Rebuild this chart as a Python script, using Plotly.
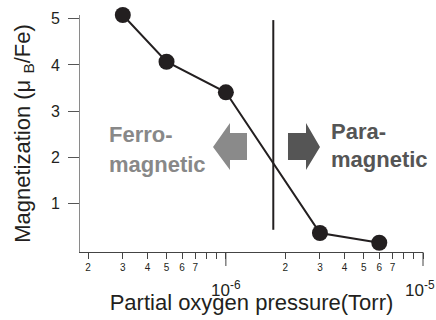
import math
import plotly.graph_objects as go

# Magnetization vs. partial oxygen pressure during growth
pressure_torr = [3e-7, 5e-7, 1e-6, 3e-6, 6e-6]
magnetization = [5.08, 4.07, 3.41, 0.37, 0.16]

# Boundary between ferro- and paramagnetic regimes
boundary_x = [1.74e-6, 1.74e-6]
boundary_y = [4.97, 0.44]

# Log-axis ticks: labelled digits within each decade
decades = [-7, -6]
digit_labels = {2: "2", 3: "3", 4: "4", 5: "5", 6: "6", 7: "7", 8: "", 9: ""}
decade_ticks = [1e-6, 1e-5]
decade_labels = ["10<sup>-6</sup>", "10<sup>-5</sup>"]
y_ticks = [1, 2, 3, 4, 5]

tick_vals, tick_text = [], []
for e in decades:
    for d, lab in digit_labels.items():
        tick_vals.append(d * 10.0 ** e)
        tick_text.append(lab)
# decade positions get their own long ticks and lower labels
tick_vals += decade_ticks
tick_text += ["", ""]

X_RANGE = [-6.74, -5.0]
FONT = "Liberation Sans, Arial, Helvetica, sans-serif"
INK = "#231f20"
AXIS = "#444444"

# Plot area in pixels: x 80..423, y 15..252
L, R, T, B = 80, 423, 15, 252
H = B - T


def px(x):
    return (x - L) / (R - L)


def py(y):
    return (B - y) / H


def xfrac(v):
    return (math.log10(v) - X_RANGE[0]) / (X_RANGE[1] - X_RANGE[0])


fig = go.Figure()
fig.add_trace(go.Scatter(
    x=pressure_torr, y=magnetization, mode="lines+markers",
    line=dict(color=INK, width=2),
    marker=dict(color=INK, size=16),
    showlegend=False, cliponaxis=False,
))
fig.add_trace(go.Scatter(
    x=boundary_x, y=boundary_y, mode="lines",
    line=dict(color=INK, width=2), showlegend=False,
))


def poly(points):
    return "M " + " L ".join(f"{px(a):.4f},{py(b):.4f}" for a, b in points) + " Z"


# Direction arrows
left_arrow = [(213, 147), (230, 123), (230, 133), (247, 133), (247, 160), (230, 160), (230, 170)]
right_arrow = [(320, 147), (306, 123), (306, 133), (288, 133), (288, 160), (306, 160), (306, 170)]
fig.add_shape(type="path", xref="paper", yref="paper", path=poly(left_arrow),
              fillcolor="#8a8a8a", line=dict(width=0))
fig.add_shape(type="path", xref="paper", yref="paper", path=poly(right_arrow),
              fillcolor="#555555", line=dict(width=0))

# Regime labels, one line at a time
regime_lines = [
    ("Ferro-", 107, 134, "#888888"),
    ("magnetic", 107, 164, "#888888"),
    ("Para-", 329, 131, "#555555"),
    ("magnetic", 329, 159, "#555555"),
]
for text, x, y, col in regime_lines:
    fig.add_annotation(x=px(x), y=py(y), xref="paper", yref="paper",
                       text=f"<b>{text}</b>", showarrow=False,
                       xanchor="left", yanchor="middle",
                       font=dict(family=FONT, size=22, color=col))

# Decade ticks: longer marks and labels set lower than the digit labels
for v, lab, shift in zip(decade_ticks, decade_labels, [0, -3]):
    f = xfrac(v)
    fig.add_shape(type="line", xref="paper", yref="paper",
                  x0=f, x1=f, y0=0, y1=-14 / H,
                  line=dict(color=AXIS, width=1))
    fig.add_annotation(x=f, y=py(289), xref="paper", yref="paper",
                       text=lab, showarrow=False, xanchor="center", yanchor="middle",
                       xshift=shift, font=dict(family=FONT, size=17, color=INK))

fig.update_layout(
    width=436, height=320,
    margin=dict(l=L, r=436 - R, t=T, b=320 - B, autoexpand=False),
    paper_bgcolor="white", plot_bgcolor="white",
    font=dict(family=FONT, color=INK),
    xaxis=dict(
        type="log", range=X_RANGE, automargin=False,
        tickmode="array", tickvals=tick_vals, ticktext=tick_text,
        ticks="outside", ticklen=6, tickwidth=1, tickcolor=AXIS,
        tickfont=dict(size=10, color=INK),
        showline=True, linecolor=AXIS, linewidth=1,
        showgrid=False, zeroline=False,
        title=dict(text="Partial oxygen pressure(Torr)", standoff=22,
                   font=dict(size=22, color=INK)),
    ),
    yaxis=dict(
        range=[-0.04, 5.08], automargin=False,
        tickmode="array", tickvals=y_ticks,
        ticks="outside", ticklen=11, tickwidth=1, tickcolor="#555555",
        ticklabelstandoff=5,
        tickfont=dict(size=16, color=INK),
        showline=True, linecolor="#8a8a8a", linewidth=1,
        showgrid=False, zeroline=False,
        title=dict(text="Magnetization (\u03bc <sub>B</sub>/Fe)", standoff=14,
                   font=dict(size=22, color=INK)),
    ),
)

fig.write_html("out.html")
